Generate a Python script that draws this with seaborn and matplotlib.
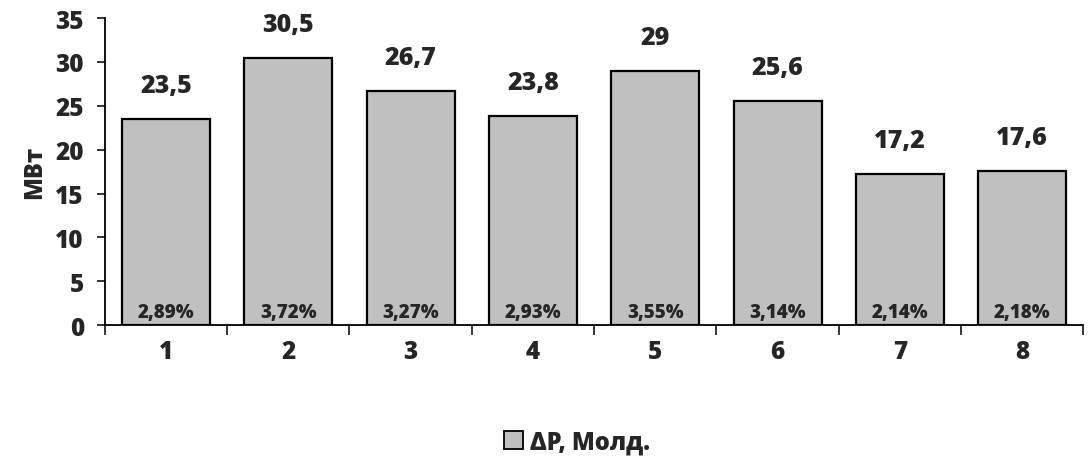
import matplotlib
matplotlib.use("Agg")
import matplotlib.pyplot as plt
import seaborn as sns
import pandas as pd
import numpy as np
from matplotlib.patches import Patch

categories = ["1", "2", "3", "4", "5", "6", "7", "8"]
losses_mw = [23.5, 30.5, 26.7, 23.8, 29.0, 25.6, 17.2, 17.6]
value_labels = ["23,5", "30,5", "26,7", "23,8", "29", "25,6", "17,2", "17,6"]
share_labels = ["2,89%", "3,72%", "3,27%", "2,93%", "3,55%", "3,14%", "2,14%", "2,18%"]
series_name = "ΔP, Молд."
y_label = "МВт"

sns.set_style("white")
plt.rcParams["font.family"] = ["Open Sans", "DejaVu Sans"]
plt.rcParams["font.weight"] = 800

W = 800  # heavy weight used for all text

df = pd.DataFrame({"cat": categories, "val": losses_mw})

fig = plt.figure(figsize=(10.91, 4.64), dpi=100)
ax = fig.add_axes([0.096, 0.297, 0.897, 0.662])

sns.barplot(data=df, x="cat", y="val", color="#c0c0c0", saturation=1,
            width=0.72, edgecolor="black", linewidth=1.6, ax=ax)

ax.set_ylim(0, 35)
ax.set_xlim(-0.5, len(categories) - 0.5)
ax.set_yticks(np.arange(0, 36, 5))
ax.tick_params(axis="y", direction="out", length=6, width=1.3, labelsize=17.5, pad=9, left=True)
ax.set_xticks(range(len(categories)))
ax.set_xticklabels(categories, fontsize=17.5, fontweight=W)
ax.set_xticks(np.arange(-0.5, len(categories)), minor=True)
ax.tick_params(axis="x", which="major", length=0, pad=10)
ax.tick_params(axis="x", which="minor", direction="out", length=7, width=1.3, bottom=True)
for lbl in ax.get_yticklabels():
    lbl.set_fontweight(W)

for s in ["top", "right"]:
    ax.spines[s].set_visible(False)
for s in ["left", "bottom"]:
    ax.spines[s].set_linewidth(1.3)
    ax.spines[s].set_color("black")

ax.set_xlabel("")
ax.set_ylabel(y_label, fontsize=17, fontweight=W, labelpad=6)

for i, (v, vl, sl) in enumerate(zip(losses_mw, value_labels, share_labels)):
    ax.annotate(vl, (i, v), xytext=(0, 15), textcoords="offset points",
                ha="center", va="bottom", fontsize=18, fontweight=W)
    ax.annotate(sl, (i, 0), xytext=(0, 2.5), textcoords="offset points",
                ha="center", va="bottom", fontsize=13.5, fontweight=W)

handle = Patch(facecolor="#c0c0c0", edgecolor="black", linewidth=1.3, label=series_name)
fig.legend(handles=[handle], loc="center", bbox_to_anchor=(0.529, 0.045),
           frameon=False, handlelength=0.8, handleheight=0.8,
           handletextpad=0.3, prop={"weight": W, "size": 17})

fig.savefig("out.png", dpi=100)
